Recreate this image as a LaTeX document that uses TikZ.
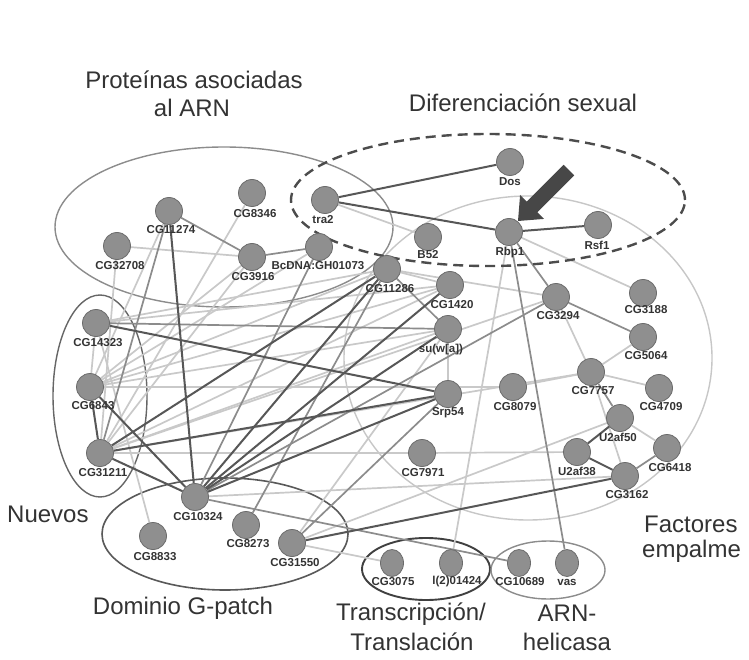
\documentclass[tikz,border=0pt]{standalone}
\usepackage{fontspec}
\setmainfont{Liberation Sans}
\usetikzlibrary{shapes.geometric}
\pgfdeclarelayer{bg}
\pgfsetlayers{bg,main}
\definecolor{nodefill}{gray}{0.56}
\definecolor{nodeline}{gray}{0.42}
\definecolor{txt}{gray}{0.2}
\tikzset{
 nd/.style={circle, fill=nodefill, draw=nodeline, line width=0.8pt, minimum size=27pt, inner sep=0pt},
 ndb/.style={ellipse, fill=nodefill, draw=nodeline, line width=0.8pt, minimum width=23pt, minimum height=27pt, inner sep=0pt},
 lb/.style={font=\bfseries\fontsize{11.5}{12}\selectfont, text=txt, inner sep=0.5pt},
 grp/.style={font=\fontsize{24}{28}\selectfont, text=txt, inner sep=0pt},
 dk/.style={draw=black!66, line width=2pt},
 md/.style={draw=black!45, line width=1.7pt},
 lt/.style={draw=black!21, line width=1.7pt},
 grpell/.style={line width=1.4pt},
}
\begin{document}
\begin{tikzpicture}[x=1pt,y=-1pt]
\useasboundingbox (0,0) rectangle (749,660);

% ---- nodes ----
\node[nd] (tra2) at (325,200) {};
\node[nd] (dos) at (510,162) {};
\node[nd] (rbp1) at (509,232) {};
\node[nd] (rsf1) at (598,225) {};
\node[nd] (cg8346) at (252,193) {};
\node[nd] (cg11274) at (169,211) {};
\node[nd] (cg32708) at (117,246) {};
\node[nd] (cg3916) at (252,257) {};
\node[nd] (bcdna) at (319,247) {};
\node[nd] (cg11286) at (387,269) {};
\node[nd] (b52) at (428,237) {};
\node[nd] (cg1420) at (450,285) {};
\node[nd] (cg3294) at (556,297) {};
\node[nd] (cg3188) at (643,293) {};
\node[nd] (cg5064) at (643,337) {};
\node[nd] (suwa) at (448,329) {};
\node[nd] (srp54) at (448,394) {};
\node[nd] (cg8079) at (513,387) {};
\node[nd] (cg7757) at (591,372) {};
\node[nd] (cg4709) at (659,388) {};
\node[nd] (u2af50) at (620,418) {};
\node[nd] (cg6418) at (667,448) {};
\node[nd] (u2af38) at (577,452) {};
\node[nd] (cg3162) at (625,476) {};
\node[nd] (cg7971) at (422,453) {};
\node[nd] (cg14323) at (96,323) {};
\node[nd] (cg6843) at (90,387) {};
\node[nd] (cg31211) at (100,453) {};
\node[nd] (cg10324) at (195,497) {};
\node[nd] (cg8833) at (153,536) {};
\node[nd] (cg8273) at (246,525) {};
\node[nd] (cg31550) at (292,543) {};
\node[ndb] (cg3075) at (392,563) {};
\node[ndb] (l201424) at (451,563) {};
\node[ndb] (cg10689) at (519,563) {};
\node[ndb] (vas) at (567,563) {};

% ---- node labels ----
\node[lb] (tra2-l) at (323,220) {tra2};
\node[lb] (dos-l) at (510,182) {Dos};
\node[lb] (rbp1-l) at (510,253) {Rbp1};
\node[lb] (rsf1-l) at (597,245) {Rsf1};
\node[lb] (cg8346-l) at (255,214) {CG8346};
\node[lb] (cg11274-l) at (171,230) {CG11274};
\node[lb] (cg32708-l) at (120,266) {CG32708};
\node[lb] (cg3916-l) at (253,277) {CG3916};
\node[lb] (bcdna-l) at (318,266) {BcDNA:GH01073};
\node[lb] (cg11286-l) at (390,289) {CG11286};
\node[lb] (b52-l) at (428,255) {B52};
\node[lb] (cg1420-l) at (452,305) {CG1420};
\node[lb] (cg3294-l) at (558,316) {CG3294};
\node[lb] (cg3188-l) at (646,310) {CG3188};
\node[lb] (cg5064-l) at (646,356) {CG5064};
\node[lb] (suwa-l) at (441,350) {su(w[a])};
\node[lb] (srp54-l) at (448,413) {Srp54};
\node[lb] (cg8079-l) at (515,407) {CG8079};
\node[lb] (cg7757-l) at (593,391) {CG7757};
\node[lb] (cg4709-l) at (661,407) {CG4709};
\node[lb] (u2af50-l) at (618,437) {U2af50};
\node[lb] (cg6418-l) at (670,468) {CG6418};
\node[lb] (u2af38-l) at (577,471) {U2af38};
\node[lb] (cg3162-l) at (627,495) {CG3162};
\node[lb] (cg7971-l) at (423,473) {CG7971};
\node[lb] (cg14323-l) at (98,343) {CG14323};
\node[lb] (cg6843-l) at (93,406) {CG6843};
\node[lb] (cg31211-l) at (103,473) {CG31211};
\node[lb] (cg10324-l) at (198,517) {CG10324};
\node[lb] (cg8833-l) at (155,557) {CG8833};
\node[lb] (cg8273-l) at (248,544) {CG8273};
\node[lb] (cg31550-l) at (295,563) {CG31550};
\node[lb] (cg3075-l) at (393,582) {CG3075};
\node[lb] (l201424-l) at (457,582) {l(2)01424};
\node[lb] (cg10689-l) at (520,582) {CG10689};
\node[lb] (vas-l) at (567,582) {vas};

% ---- group labels ----
\node[grp] (prot1) at (194,80) {Proteínas asociadas};
\node[grp] (prot2) at (192,108) {al ARN};
\node[grp] (difs) at (523,103) {Diferenciación sexual};
\node[grp, anchor=west] (nuevos) at (7,514) {Nuevos};
\node[grp] (gpatch) at (183,608) {Dominio G-patch};
\node[grp] (trans1) at (411,614) {Transcripción/};
\node[grp] (trans2) at (412,642) {Translación};
\node[grp] (arn1) at (567,613) {ARN-};
\node[grp] (arn2) at (567,642) {helicasa};
\node[grp, anchor=west] (fac1) at (644,524) {Factores};
\node[grp, anchor=west] (fac2) at (642,551) {empalme};

% ---- arrow ----
\fill[black!72] (518,221) -- (544.1,218.9) -- (537.4,212.2) -- (574.2,175.4)
  -- (563.6,164.8) -- (526.8,201.6) -- (520.1,194.9) -- cycle;

\begin{pgfonlayer}{bg}
\fill[white] (0,0) rectangle (749,660);
% group ellipses
\draw[grpell, black!22] (528,358) ellipse [x radius=184pt, y radius=162pt];
\draw[grpell, black!45] (224,227) ellipse [x radius=169pt, y radius=80pt];
\draw[grpell, black!60] (100,396) ellipse [x radius=47pt, y radius=101pt];
\draw[grpell, black!65, line width=1.6pt] (225,534) ellipse [x radius=123pt, y radius=56pt];
\draw[grpell, black!75, line width=1.9pt] (426,569) ellipse [x radius=64pt, y radius=31pt];
\draw[grpell, black!45] (548,570) ellipse [x radius=57pt, y radius=29pt];

% light edges
\draw[lt] (cg32708) -- (cg3916);
\draw[lt] (cg32708) -- (cg31211);
\draw[lt] (cg8346) -- (cg31211);
\draw[lt] (cg3916) -- (cg6843);
\draw[lt] (cg3916) -- (cg31211);
\draw[lt] (cg11274) -- (cg6843);
\draw[lt] (tra2) -- (b52);
\draw[lt] (rbp1) -- (cg3188);
\draw[lt] (rbp1) -- (l201424);
\draw[lt] (cg11286) -- (cg3294);
\draw[lt] (cg11286) -- (cg1420);
\draw[lt] (suwa) -- (srp54);
\draw[lt] (cg3294) -- (cg7757);
\draw[lt] (cg7757) -- (cg5064);
\draw[lt] (cg7757) -- (cg4709);
\draw[lt] (cg7757) -- (cg8079);
\draw[lt] (cg7757) -- (cg3162);
\draw[lt] (u2af50) -- (cg6418);
\draw[lt] (u2af50) -- (cg31550);
\draw[lt] (cg10324) -- (cg3162);
\draw[lt] (cg31211) -- (cg7971);
\draw[lt] (cg7971) -- (u2af38);
\draw[lt] (cg31550) -- (cg3075);
\draw[lt] (cg31550) -- (suwa);
\draw[lt] (cg8833) -- (cg14323);
\draw[lt] (cg14323) -- (cg6843);
\draw[lt] (cg14323) -- (cg11286);
\draw[lt] (cg14323) -- (cg1420);
\draw[lt] (cg6843) -- (suwa);
\draw[lt] (cg6843) -- (cg8079);
\draw[lt] (cg6843) -- (cg11286);
\draw[lt] (cg6843) -- (cg1420);
\draw[lt] (cg6843) -- (bcdna);
\draw[lt] (cg31211) -- (suwa);
\draw[lt] (cg31211) -- (cg3294);
\draw[lt] (cg31211) -- (cg7757);
\draw[lt] (cg31211) -- (cg1420);

% medium edges
\draw[md] (cg11274) -- (cg3916);
\draw[md] (cg3916) -- (bcdna);
\draw[md] (rbp1) -- (cg3294);
\draw[md] (cg3294) -- (cg5064);
\draw[md] (rbp1) -- (vas);
\draw[md] (cg10324) -- (cg10689);
\draw[md] (bcdna) -- (cg10324);
\draw[md] (cg14323) -- (suwa);
\draw[md] (cg11274) -- (cg31211);
\draw[md] (cg11286) -- (cg8273);
\draw[md] (cg11286) -- (suwa);
\draw[md] (cg7757) -- (u2af50);
\draw[md] (cg3294) -- (cg10324);
\draw[md] (cg6418) -- (cg3162);
\draw[md] (srp54) -- (cg31550);

% dark edges
\draw[dk] (tra2) -- (dos);
\draw[dk] (tra2) -- (rbp1);
\draw[dk] (rbp1) -- (rsf1);
\draw[dk] (cg11274) -- (cg10324);
\draw[dk] (cg6843) -- (cg10324);
\draw[dk] (cg31211) -- (cg10324);
\draw[dk] (cg11286) -- (cg10324);
\draw[dk] (suwa) -- (cg10324);
\draw[dk] (srp54) -- (cg10324);
\draw[dk] (cg1420) -- (cg10324);
\draw[dk] (cg11286) -- (cg31211);
\draw[dk] (cg14323) -- (srp54);
\draw[dk] (cg31211) -- (srp54);
\draw[dk] (cg6843) -- (cg31211);
\draw[dk] (u2af38) -- (u2af50);
\draw[dk] (u2af38) -- (cg3162);
\draw[dk] (cg3162) -- (cg31550);

% dashed group (sexual differentiation)
\draw[black!70, line width=2.4pt, dash pattern=on 10pt off 6pt] (488,200) ellipse [x radius=197pt, y radius=66pt];
\end{pgfonlayer}
\end{tikzpicture}
\end{document}
